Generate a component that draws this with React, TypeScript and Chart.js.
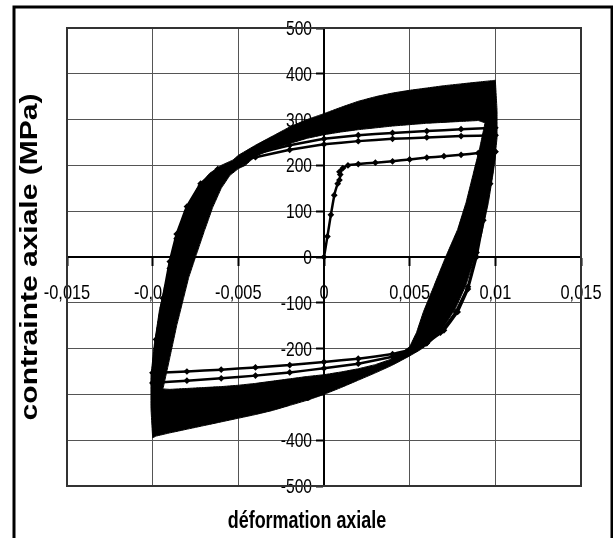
import React, { useEffect, useRef } from "react";
import Chart from "chart.js/auto";

// ---- axis ticks ----
const xTickValues = [-0.015, -0.01, -0.005, 0, 0.005, 0.01, 0.015];
const xTickLabels = ["-0,015", "-0,01", "-0,005", "0", "0,005", "0,01", "0,015"];
const yTickValues = [500, 400, 300, 200, 100, 0, -100, -200, -300, -400, -500];
const yTickLabels = ["500", "400", "300", "200", "100", "0", "-100", "-200", "-300", "-400", "-500"];

const xTitle = "déformation axiale";
const yTitle = "contrainte axiale (MPa)";

// ---- first monotonic loading (strain, stress MPa) ----
const monotonic: [number, number][] = [
  [0, 0], [0.0002, 45], [0.0004, 92], [0.0006, 135], [0.0008, 160], [0.0009, 168],
  [0.00095, 180], [0.0009, 186], [0.0011, 194], [0.0014, 200], [0.002, 203], [0.003, 206],
  [0.004, 209], [0.005, 213], [0.006, 217], [0.007, 220], [0.008, 223], [0.009, 227], [0.01, 230],
];

// ---- first visible cycles ----
const cycle1Unload: [number, number][] = [
  [0.01, 230], [0.0097, 160], [0.0093, 80], [0.0089, 0], [0.0084, -70], [0.0078, -120],
  [0.007, -160], [0.006, -188], [0.005, -203], [0.004, -212], [0.002, -222], [0, -229],
  [-0.002, -236], [-0.004, -241], [-0.006, -246], [-0.008, -250], [-0.01, -253],
];
const cycle2Reload: [number, number][] = [
  [-0.01, -253], [-0.0098, -180], [-0.0094, -90], [-0.009, -10], [-0.0086, 50], [-0.008, 110],
  [-0.0072, 160], [-0.0062, 192], [-0.005, 207], [-0.004, 218], [-0.002, 234], [0, 246],
  [0.002, 253], [0.004, 258], [0.006, 261], [0.008, 264], [0.01, 266],
];
const cycle2Unload: [number, number][] = [
  [0.01, 266], [0.0097, 190], [0.0093, 100], [0.0089, 10], [0.0084, -65], [0.0077, -120],
  [0.0068, -165], [0.006, -188], [0.005, -206], [0.004, -218], [0.002, -233], [0, -243],
  [-0.002, -252], [-0.004, -259], [-0.006, -265], [-0.008, -270], [-0.01, -275],
];
const cycle3Reload: [number, number][] = [
  [-0.01, -275], [-0.0098, -200], [-0.0094, -110], [-0.009, -25], [-0.0086, 40], [-0.008, 100],
  [-0.0072, 155], [-0.0062, 190], [-0.005, 210], [-0.004, 225], [-0.002, 244], [0, 258],
  [0.002, 266], [0.004, 271], [0.006, 275], [0.008, 279], [0.01, 282],
];

// ---- dense band of the later cycles: outer envelope ----
const bandOuterTop: [number, number][] = [
  [-0.0053, 212], [-0.005, 222], [-0.004, 244], [-0.003, 264], [-0.002, 284], [-0.001, 300],
  [0, 313], [0.001, 327], [0.002, 340], [0.003, 350], [0.004, 358], [0.005, 364], [0.006, 369],
  [0.007, 374], [0.008, 378], [0.009, 382], [0.0098, 385], [0.01, 386],
];
const bandOuterRight: [number, number][] = [
  [0.0101, 320], [0.0101, 260], [0.0099, 190], [0.0096, 120], [0.0092, 50], [0.0088, 0],
  [0.0083, -60], [0.0077, -110], [0.0069, -158], [0.0061, -190], [0.0056, -203],
];
const bandOuterBottom: [number, number][] = [
  [0.005, -216], [0.004, -236], [0.003, -253], [0.002, -269], [0.001, -285], [0, -300],
  [-0.001, -313], [-0.002, -324], [-0.003, -335], [-0.004, -344], [-0.005, -352], [-0.006, -360],
  [-0.007, -368], [-0.008, -376], [-0.009, -384], [-0.0098, -391], [-0.01, -395],
];
const bandOuterLeft: [number, number][] = [
  [-0.0101, -330], [-0.0101, -260], [-0.0099, -190], [-0.0096, -115], [-0.0092, -50], [-0.0089, 0],
  [-0.0085, 55], [-0.008, 105], [-0.0074, 150], [-0.0067, 182], [-0.006, 200],
];
// ---- dense band: inner (white) boundary, opposite direction ----
const bandInnerLeft: [number, number][] = [
  [-0.0046, 200], [-0.005, 193], [-0.0055, 178], [-0.006, 150], [-0.0065, 108], [-0.007, 55],
  [-0.0075, 0], [-0.0079, -45], [-0.0082, -90], [-0.0086, -150], [-0.009, -220], [-0.0094, -288],
];
const bandInnerBottom: [number, number][] = [
  [-0.009, -289], [-0.008, -287], [-0.007, -285], [-0.006, -283], [-0.005, -280], [-0.004, -276],
  [-0.003, -271], [-0.002, -266], [-0.001, -261], [0, -257], [0.001, -251], [0.002, -244],
  [0.003, -235], [0.004, -222], [0.0046, -207],
];
const bandInnerRight: [number, number][] = [
  [0.005, -196], [0.0054, -165], [0.0058, -120], [0.0064, -65], [0.0071, 0], [0.0078, 60],
  [0.0083, 120], [0.0087, 180], [0.0091, 240], [0.0094, 293],
];
const bandInnerTop: [number, number][] = [
  [0.009, 298], [0.008, 296], [0.006, 292], [0.004, 286], [0.002, 278], [0.001, 273], [0, 267],
  [-0.001, 259], [-0.002, 248], [-0.003, 236], [-0.004, 220], [-0.0043, 210],
];

const FONT = '"Liberation Sans", Arial, sans-serif';
const SQUEEZE = 0.78;

const toPts = (arr: [number, number][]) => arr.map(([x, y]) => ({ x, y }));

const decorPlugin = {
  id: "decor",
  beforeDatasetsDraw(chart: any) {
    const ctx = chart.ctx as CanvasRenderingContext2D;
    const xs = chart.scales.x;
    const ys = chart.scales.y;
    const x0 = xs.getPixelForValue(0);
    const y0 = ys.getPixelForValue(0);
    ctx.save();
    ctx.fillStyle = "#000";
    ctx.font = `20px ${FONT}`;
    yTickValues.forEach((v, i) => {
      const y = ys.getPixelForValue(v);
      ctx.save();
      ctx.translate(x0 - 12, y + 7);
      ctx.scale(SQUEEZE, 1);
      ctx.textAlign = "right";
      ctx.textBaseline = "alphabetic";
      ctx.fillText(yTickLabels[i], 0, 0);
      ctx.restore();
    });
    ctx.font = `21px ${FONT}`;
    xTickValues.forEach((v, i) => {
      const x = xs.getPixelForValue(v);
      ctx.save();
      ctx.translate(x, y0 + 42);
      ctx.scale(SQUEEZE, 1);
      ctx.textAlign = "center";
      ctx.textBaseline = "alphabetic";
      ctx.fillText(xTickLabels[i], 0, 0);
      ctx.restore();
    });
    ctx.restore();
  },
  afterDraw(chart: any) {
    const ctx = chart.ctx as CanvasRenderingContext2D;
    const ca = chart.chartArea;
    ctx.save();
    // plot border
    ctx.strokeStyle = "#333";
    ctx.lineWidth = 2;
    ctx.strokeRect(ca.left, ca.top, ca.right - ca.left, ca.bottom - ca.top);
    // outer frame
    ctx.strokeStyle = "#000";
    ctx.lineWidth = 3;
    ctx.strokeRect(14, 7, 598, 600);
    // x title
    ctx.fillStyle = "#000";
    ctx.save();
    ctx.translate(307, 528);
    ctx.scale(SQUEEZE, 1);
    ctx.font = `bold 23px ${FONT}`;
    ctx.textAlign = "center";
    ctx.textBaseline = "alphabetic";
    ctx.fillText(xTitle, 0, 0);
    ctx.restore();
    // y title
    ctx.save();
    ctx.translate(31, (ca.top + ca.bottom) / 2);
    ctx.rotate(-Math.PI / 2);
    ctx.scale(1, SQUEEZE);
    ctx.font = `bold 30px ${FONT}`;
    ctx.textAlign = "center";
    ctx.textBaseline = "middle";
    ctx.fillText(yTitle, 0, 0);
    ctx.restore();
    ctx.restore();
  },
};

export default function App() {
  const canvasRef = useRef<HTMLCanvasElement | null>(null);

  useEffect(() => {
    if (!canvasRef.current) return;
    const band = [
      ...bandOuterTop, ...bandOuterRight, ...bandOuterBottom, ...bandOuterLeft, bandOuterTop[0],
      ...bandInnerLeft, ...bandInnerBottom, ...bandInnerRight, ...bandInnerTop, bandInnerLeft[0],
    ];
    const earlyCycles = [...cycle1Unload, ...cycle2Reload, ...cycle2Unload, ...cycle3Reload];
    const lineStyle = {
      showLine: true,
      borderColor: "#000",
      backgroundColor: "#000",
      pointBackgroundColor: "#000",
      pointBorderColor: "#000",
      fill: false,
    };
    const chart = new Chart(canvasRef.current, {
      type: "scatter",
      data: {
        datasets: [
          {
            ...lineStyle,
            data: toPts(monotonic),
            borderWidth: 2.5,
            pointRadius: 1.6,
            pointStyle: "rectRot",
            tension: 0.05,
          },
          {
            ...lineStyle,
            data: toPts(earlyCycles),
            borderWidth: 2.5,
            pointRadius: 1.6,
            pointStyle: "rectRot",
            tension: 0.05,
          },
          {
            ...lineStyle,
            data: toPts(band),
            borderWidth: 1,
            pointRadius: 0,
            tension: 0.0001,
            fill: "shape",
          },
        ],
      },
      options: {
        animation: false,
        responsive: false,
        devicePixelRatio: 1,
        events: [],
        layout: { padding: { left: 67, top: 28, right: 32, bottom: 52 }, autoPadding: false },
        plugins: { legend: { display: false }, tooltip: { enabled: false } },
        scales: {
          x: {
            type: "linear",
            min: -0.015,
            max: 0.015,
            position: { y: 0 },
            afterBuildTicks: (s: any) => {
              s.ticks = xTickValues.map((v) => ({ value: v }));
            },
            ticks: { display: false },
            grid: { color: "#555", lineWidth: 1, drawTicks: true, tickLength: 8, tickColor: "#000", tickWidth: 2 },
            border: { display: true, color: "#000", width: 2 },
          },
          y: {
            type: "linear",
            min: -500,
            max: 500,
            position: { x: 0 },
            afterBuildTicks: (s: any) => {
              s.ticks = yTickValues.map((v) => ({ value: v }));
            },
            ticks: { display: false },
            grid: { color: "#555", lineWidth: 1, drawTicks: true, tickLength: 7, tickColor: "#000", tickWidth: 2 },
            border: { display: true, color: "#000", width: 2 },
          },
        },
      },
      plugins: [decorPlugin],
    } as any);
    return () => chart.destroy();
  }, []);

  return (
    <div style={{ position: "absolute", left: 0, top: 0, width: 613, height: 538, background: "#fff" }}>
      <canvas ref={canvasRef} width={613} height={538} style={{ display: "block" }} />
    </div>
  );
}
